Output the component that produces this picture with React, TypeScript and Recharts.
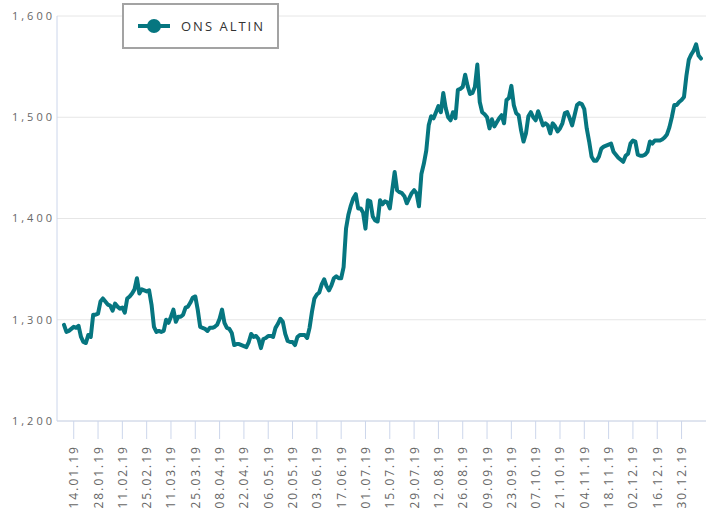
import React from "react"
import { LineChart, Line, XAxis, YAxis, CartesianGrid, Legend } from "recharts"

// ONS ALTIN closing prices, one value per business day from 08.01.19
const prices: number[] = [
  1295, 1288, 1289, 1291, 1293, 1292, 1294, 1283, 1278, 1277,
  1285, 1283, 1305, 1305, 1306, 1318, 1321, 1318, 1315, 1314,
  1309, 1316, 1313, 1311, 1312, 1307, 1321, 1323, 1326, 1330,
  1341, 1326, 1330, 1329, 1328, 1329, 1315, 1293, 1288, 1289,
  1288, 1289, 1300, 1297, 1303, 1310, 1298, 1303, 1303, 1305,
  1312, 1313, 1317, 1322, 1323, 1310, 1293, 1292, 1291, 1289,
  1292, 1292, 1293, 1295, 1301, 1310, 1297, 1292, 1291, 1287,
  1275, 1276, 1276, 1275, 1274, 1273, 1278, 1286, 1283, 1284,
  1281, 1272, 1281, 1282, 1284, 1284, 1283, 1292, 1296, 1301,
  1298, 1286, 1279, 1278, 1278, 1275, 1283, 1285, 1285, 1285,
  1282, 1292, 1308, 1321, 1325, 1327, 1335, 1340, 1333, 1329,
  1334, 1341, 1343, 1341, 1341, 1352, 1390, 1404, 1413, 1420,
  1424, 1410, 1410, 1406, 1390, 1418, 1417, 1402, 1398, 1397,
  1418, 1414, 1417, 1416, 1410, 1428, 1446, 1428, 1426, 1425,
  1422, 1415, 1420, 1425, 1428, 1425, 1412, 1444, 1454, 1467,
  1492, 1501, 1499, 1505, 1511, 1505, 1524, 1509, 1500, 1497,
  1505, 1499, 1527, 1528, 1530, 1542, 1531, 1523, 1524, 1530,
  1552, 1515, 1505, 1503, 1500, 1489, 1498, 1491, 1495, 1499,
  1502, 1494, 1517, 1519, 1531, 1512, 1504, 1502, 1487, 1476,
  1484, 1501, 1505, 1500, 1497, 1506, 1499, 1492, 1494, 1492,
  1484, 1494, 1491, 1486, 1489, 1494, 1504, 1505, 1499, 1492,
  1502, 1512, 1514, 1513, 1508, 1489, 1476, 1461, 1457, 1457,
  1461, 1469, 1471, 1472, 1473, 1474, 1466, 1463, 1460, 1458,
  1456, 1462, 1464, 1474, 1477, 1476, 1463, 1462, 1462, 1463,
  1466, 1476, 1474, 1477, 1477, 1477, 1478, 1480, 1483, 1490,
  1500, 1512, 1512, 1515, 1517, 1520, 1541, 1557, 1562, 1566,
  1572, 1561, 1558,
]

const tickLabels = [
  "14.01.19", "28.01.19", "11.02.19", "25.02.19", "11.03.19", "25.03.19",
  "08.04.19", "22.04.19", "06.05.19", "20.05.19", "03.06.19", "17.06.19",
  "01.07.19", "15.07.19", "29.07.19", "12.08.19", "26.08.19", "09.09.19",
  "23.09.19", "07.10.19", "21.10.19", "04.11.19", "18.11.19", "02.12.19",
  "16.12.19", "30.12.19",
]

const yTicks = [1200, 1300, 1400, 1500, 1600]

const seriesName = "ONS ALTIN"
const lineColor = "#067680"
const font = "'Open Sans', sans-serif"

// business-day labels (dd.mm.yy) starting at 08.01.2019
function businessDays(start: Date, count: number): string[] {
  const out: string[] = []
  const d = new Date(start.getTime())
  while (out.length < count) {
    const wd = d.getDay()
    if (wd !== 0 && wd !== 6) {
      const dd = String(d.getDate()).padStart(2, "0")
      const mm = String(d.getMonth() + 1).padStart(2, "0")
      const yy = String(d.getFullYear()).slice(2)
      out.push(`${dd}.${mm}.${yy}`)
    }
    d.setDate(d.getDate() + 1)
  }
  return out
}

const dates = businessDays(new Date(2019, 0, 8), prices.length)
const chartData = dates.map((date, i) => ({ date, value: prices[i] }))

function DateTick({ x, y, payload }: any) {
  return (
    <text
      x={x}
      y={y}
      transform={`rotate(-90, ${x}, ${y})`}
      textAnchor="end"
      dominantBaseline="central"
      fill="#666"
      fontSize={12}
      letterSpacing={2}
      fontFamily={font}
    >
      {payload.value}
    </text>
  )
}

function LegendBox() {
  return (
    <div
      style={{
        boxSizing: "border-box",
        width: 157,
        height: 46,
        border: "2px solid #a3a3a3",
        background: "#fff",
        display: "flex",
        alignItems: "center",
        paddingLeft: 14,
      }}
    >
      <svg width={34} height={18} style={{ display: "block" }}>
        <line x1={0} y1={9} x2={32} y2={9} stroke={lineColor} strokeWidth={4} />
        <circle cx={16} cy={9} r={7} fill={lineColor} />
      </svg>
      <span
        style={{
          marginLeft: 9,
          fontFamily: font,
          fontSize: 13,
          letterSpacing: 2,
          color: "#333",
        }}
      >
        {seriesName}
      </span>
    </div>
  )
}

export default function App() {
  return (
    <div style={{ position: "absolute", left: 0, top: 0, background: "#fff" }}>
      <LineChart
        width={715}
        height={522}
        data={chartData}
        margin={{ top: 16, right: 9, left: 0, bottom: 0 }}
      >
        <CartesianGrid vertical={false} stroke="#e6e6e6" />
        <XAxis
          dataKey="date"
          ticks={tickLabels}
          interval={0}
          height={101}
          padding={{ left: 7, right: 5 }}
          axisLine={{ stroke: "#ccd6eb" }}
          tickLine={{ stroke: "#ccd6eb" }}
          tickSize={18}
          tickMargin={6}
          tick={<DateTick />}
        />
        <YAxis
          domain={[1200, 1600]}
          ticks={yTicks}
          width={57}
          axisLine={{ stroke: "#ccd6eb" }}
          tickLine={false}
          tickSize={0}
          tickMargin={2}
          tickFormatter={(v: number) => v.toLocaleString("en-US")}
          tick={{ fill: "#666", fontSize: 11, letterSpacing: 3, fontFamily: font }}
        />
        <Legend
          layout="horizontal"
          verticalAlign="middle"
          align="center"
          content={<LegendBox />}
          wrapperStyle={{ top: 3, left: 122, width: 157, height: 46 }}
        />
        <Line
          type="linear"
          dataKey="value"
          name={seriesName}
          stroke={lineColor}
          strokeWidth={4}
          strokeLinejoin="round"
          strokeLinecap="round"
          dot={false}
          isAnimationActive={false}
        />
      </LineChart>
    </div>
  )
}
